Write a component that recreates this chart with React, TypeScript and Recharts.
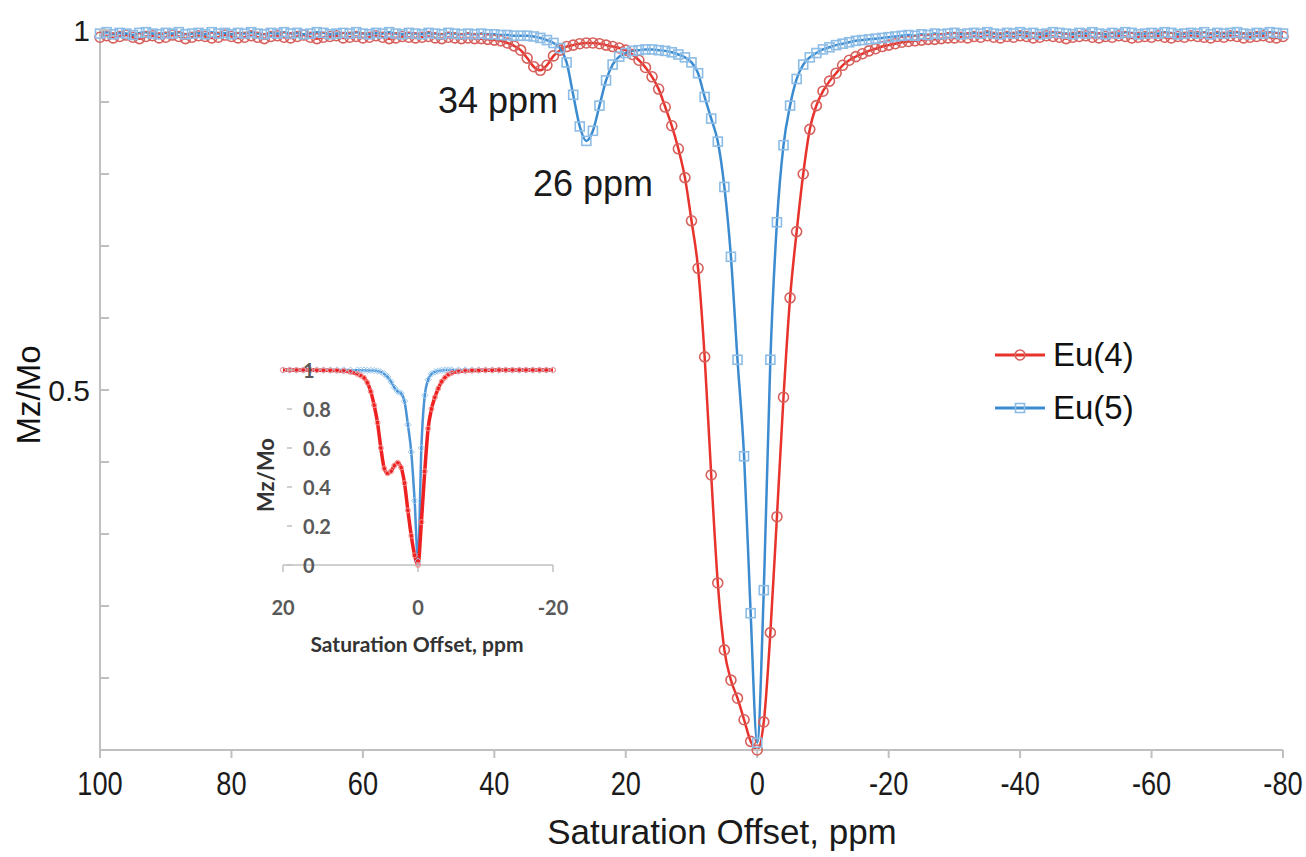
import React from 'react';
import { LineChart, Line, XAxis, YAxis, Legend } from 'recharts';

// ---------- main chart data (saturation offset, ppm) ----------
const offsetsPpm = [
  100, 99, 98, 97, 96, 95, 94, 93, 92, 91,
  90, 89, 88, 87, 86, 85, 84, 83, 82, 81,
  80, 79, 78, 77, 76, 75, 74, 73, 72, 71,
  70, 69, 68, 67, 66, 65, 64, 63, 62, 61,
  60, 59, 58, 57, 56, 55, 54, 53, 52, 51,
  50, 49, 48, 47, 46, 45, 44, 43, 42, 41,
  40, 39, 38, 37, 36, 35, 34, 33, 32, 31,
  30, 29, 28, 27, 26, 25, 24, 23, 22, 21,
  20, 19, 18, 17, 16, 15, 14, 13, 12, 11,
  10, 9, 8, 7, 6, 5, 4, 3, 2, 1,
  0,
  -1, -2, -3, -4, -5, -6, -7, -8, -9, -10,
  -11, -12, -13, -14, -15, -16, -17, -18, -19, -20,
  -21, -22, -23, -24, -25, -26, -27, -28, -29, -30,
  -31, -32, -33, -34, -35, -36, -37, -38, -39, -40,
  -41, -42, -43, -44, -45, -46, -47, -48, -49, -50,
  -51, -52, -53, -54, -55, -56, -57, -58, -59, -60,
  -61, -62, -63, -64, -65, -66, -67, -68, -69, -70,
  -71, -72, -73, -74, -75, -76, -77, -78, -79, -80,
];

const eu4Values = [
  0.990, 0.992, 0.989, 0.991, 0.993, 0.990, 0.988, 0.991, 0.992, 0.989,
  0.990, 0.993, 0.991, 0.988, 0.990, 0.992, 0.991, 0.989, 0.990, 0.993,
  0.991, 0.989, 0.990, 0.992, 0.990, 0.988, 0.991, 0.992, 0.990, 0.989,
  0.991, 0.993, 0.990, 0.988, 0.990, 0.991, 0.992, 0.989, 0.990, 0.991,
  0.989, 0.990, 0.992, 0.990, 0.988, 0.989, 0.991, 0.990, 0.989, 0.990,
  0.991, 0.989, 0.988, 0.990, 0.989, 0.988, 0.989, 0.988, 0.988, 0.987,
  0.986, 0.985, 0.982, 0.978, 0.972, 0.961, 0.949, 0.944, 0.951, 0.964,
  0.972, 0.977, 0.979, 0.981, 0.982, 0.982, 0.981, 0.979, 0.977, 0.975,
  0.972, 0.966, 0.958, 0.948, 0.935, 0.918, 0.893, 0.867, 0.835, 0.795,
  0.735, 0.669, 0.546, 0.382, 0.232, 0.139, 0.097, 0.072, 0.042, 0.012,
  0.0,
  0.039, 0.163, 0.324, 0.490, 0.628, 0.720, 0.800, 0.862, 0.895, 0.915,
  0.929, 0.940, 0.951, 0.958, 0.963, 0.967, 0.971, 0.974, 0.977, 0.979,
  0.981, 0.983, 0.984, 0.985, 0.986, 0.987, 0.987, 0.988, 0.989, 0.989,
  0.990, 0.989, 0.991, 0.990, 0.992, 0.990, 0.989, 0.991, 0.990, 0.992,
  0.991, 0.989, 0.990, 0.992, 0.991, 0.990, 0.988, 0.990, 0.991, 0.992,
  0.990, 0.989, 0.991, 0.990, 0.992, 0.991, 0.989, 0.990, 0.991, 0.990,
  0.992, 0.990, 0.989, 0.991, 0.990, 0.992, 0.991, 0.990, 0.989, 0.991,
  0.990, 0.992, 0.991, 0.989, 0.990, 0.991, 0.992, 0.990, 0.989, 0.991,
];

const eu5Values = [
  0.995, 0.997, 0.994, 0.996, 0.995, 0.993, 0.996, 0.997, 0.995, 0.994,
  0.996, 0.995, 0.997, 0.994, 0.995, 0.996, 0.994, 0.997, 0.995, 0.996,
  0.994, 0.996, 0.995, 0.997, 0.995, 0.994, 0.996, 0.995, 0.997, 0.995,
  0.996, 0.994, 0.995, 0.997, 0.996, 0.994, 0.995, 0.996, 0.995, 0.997,
  0.995, 0.994, 0.996, 0.995, 0.997, 0.995, 0.994, 0.996, 0.995, 0.994,
  0.996, 0.995, 0.994, 0.996, 0.995, 0.994, 0.995, 0.994, 0.995, 0.994,
  0.994, 0.993, 0.993, 0.992, 0.992, 0.992, 0.991, 0.989, 0.986, 0.982,
  0.975, 0.955, 0.910, 0.866, 0.846, 0.860, 0.895, 0.930, 0.952, 0.963,
  0.968, 0.971, 0.972, 0.973, 0.973, 0.972, 0.971, 0.969, 0.966, 0.962,
  0.955, 0.940, 0.907, 0.877, 0.845, 0.782, 0.685, 0.542, 0.408, 0.190,
  0.010,
  0.222, 0.542, 0.733, 0.840, 0.895, 0.932, 0.952, 0.962, 0.968, 0.973,
  0.976, 0.979, 0.981, 0.983, 0.985, 0.986, 0.987, 0.988, 0.989, 0.990,
  0.991, 0.992, 0.993, 0.992, 0.994, 0.993, 0.995, 0.994, 0.995, 0.996,
  0.994, 0.995, 0.996, 0.995, 0.997, 0.995, 0.994, 0.996, 0.995, 0.997,
  0.995, 0.996, 0.994, 0.995, 0.997, 0.996, 0.995, 0.994, 0.996, 0.995,
  0.997, 0.995, 0.994, 0.996, 0.995, 0.997, 0.996, 0.994, 0.995, 0.996,
  0.995, 0.997, 0.996, 0.994, 0.995, 0.996, 0.995, 0.997, 0.994, 0.996,
  0.995, 0.996, 0.997, 0.995, 0.994, 0.996, 0.995, 0.997, 0.996, 0.995,
];

const xTicks = [100, 80, 60, 40, 20, 0, -20, -40, -60, -80];
const yTicks = [0, 0.1, 0.2, 0.3, 0.4, 0.5, 0.6, 0.7, 0.8, 0.9, 1];
const yLabelledTicks = [1, 0.5];
const yLabelTexts = ['1', '0.5'];

// ---------- inset data ----------
const insetOffsets = [
  20, 19, 18, 17, 16, 15, 14, 13, 12, 11, 10, 9,
  8.5, 8, 7.5, 7, 6.5, 6, 5.5, 5, 4.5, 4, 3.5, 3, 2.5, 2, 1.5, 1, 0.5, 0,
  -0.5, -1, -1.5, -2, -2.5, -3, -3.5, -4, -4.5, -5,
  -6, -7, -8, -9, -10, -11, -12, -13, -14, -15, -16, -17, -18, -19, -20,
];
const insetEu4 = [
  1.0, 1.0, 1.0, 1.0, 1.0, 0.999, 0.999, 0.998, 0.997, 0.995, 0.99, 0.98,
  0.972, 0.96, 0.935, 0.89, 0.82, 0.73, 0.6, 0.495, 0.47, 0.48, 0.51, 0.525, 0.5, 0.42, 0.28, 0.15, 0.05, 0.0,
  0.22, 0.48, 0.7, 0.8, 0.86, 0.905, 0.94, 0.962, 0.977, 0.985,
  0.992, 0.995, 0.997, 0.998, 0.999, 0.999, 1.0, 1.0, 1.0, 1.0, 1.0, 1.0, 1.0, 1.0, 1.0,
];
const insetEu5 = [
  1.0, 1.0, 1.0, 1.0, 1.0, 1.0, 1.0, 1.0, 1.0, 1.0, 0.999, 0.999,
  0.999, 0.999, 0.998, 0.998, 0.997, 0.995, 0.99, 0.98, 0.965, 0.94, 0.91, 0.89, 0.88, 0.84, 0.72, 0.58, 0.33, 0.02,
  0.6, 0.87, 0.95, 0.98, 0.99, 0.995, 0.998, 1.0, 1.0, 1.0,
  1.0, 1.0, 1.0, 1.0, 1.0, 1.0, 1.0, 1.0, 1.0, 1.0, 1.0, 1.0, 1.0, 1.0, 1.0,
];
const insetXTicks = [20, 0, -20];
const insetYTicks = [0, 0.2, 0.4, 0.6, 0.8, 1];
const insetYLabels = ['0', '0.2', '0.4', '0.6', '0.8', '1'];

const seriesNames = ['Eu(4)', 'Eu(5)'];

const mainData = offsetsPpm.map((x, i) => ({ x, eu4: eu4Values[i], eu5: eu5Values[i] }));
const insetData = insetOffsets.map((x, i) => ({ x, eu4: insetEu4[i], eu5: insetEu5[i] }));

// ---------- styles ----------
const RED = '#e8322c';
const RED_MARK = '#d6605c';
const BLUE = '#3b8bd0';
const BLUE_MARK = '#8dbde6';
const AXIS = '#c0c0c0';
const FONT = '"Liberation Sans", Arial, sans-serif';
const INSET_FONT = 'Lato, "Open Sans", sans-serif';

const SquareDot = (props: any) => {
  const { cx, cy, index } = props;
  if (cx == null || cy == null) return <g key={`sq-${index}`} />;
  return (
    <rect key={`sq-${index}`} x={cx - 4.5} y={cy - 4.5} width={9} height={9}
      fill="none" stroke={BLUE_MARK} strokeWidth={1.6} />
  );
};

const DiamondDot = (props: any) => {
  const { cx, cy, index } = props;
  if (cx == null || cy == null) return <g key={`dm-${index}`} />;
  const s = 3.2;
  return (
    <path key={`dm-${index}`} d={`M${cx},${cy - s}L${cx + s},${cy}L${cx},${cy + s}L${cx - s},${cy}Z`}
      fill="none" stroke="#9ccaf0" strokeWidth={1} />
  );
};

const MainXTick = (props: any) => {
  const { x, y, payload } = props;
  return (
    <g transform={`translate(${x},${y + 25}) scale(0.8,1)`}>
      <text x={0} y={0} textAnchor="middle" dominantBaseline="central"
        fontFamily={FONT} fontSize={34} fill="#1a1a1a">{payload.value}</text>
    </g>
  );
};

const MainYTick = (props: any) => {
  const { x, y, payload } = props;
  const idx = yLabelledTicks.indexOf(payload.value);
  return (
    <g>
      <line x1={x} x2={x + 9} y1={y} y2={y} stroke={AXIS} strokeWidth={2} />
      {idx >= 0 && (
        <text x={x - 10} y={y} textAnchor="end" dominantBaseline="central"
          fontFamily={FONT} fontSize={30} fill="#1a1a1a">{yLabelTexts[idx]}</text>
      )}
    </g>
  );
};

const InsetXTick = (props: any) => {
  const { x, y, payload } = props;
  return (
    <text x={x} y={y + 35} textAnchor="middle" dominantBaseline="central"
      fontFamily={INSET_FONT} fontWeight={700} fontSize={20} fill="#595959">{payload.value}</text>
  );
};

const InsetYTick = (props: any) => {
  const { x, y, payload } = props;
  const idx = insetYTicks.indexOf(payload.value);
  return (
    <g>
      <line x1={x + 4} x2={x + 9} y1={y} y2={y} stroke={AXIS} strokeWidth={1.5} />
      <text x={x + 20} y={y} textAnchor="start" dominantBaseline="central"
        fontFamily={INSET_FONT} fontWeight={700} fontSize={20} fill="#595959">{insetYLabels[idx]}</text>
    </g>
  );
};

const LegendContent = (props: any) => {
  const payload = props.payload || [];
  return (
    <div>
      {payload.map((item: any) => (
        <div key={item.value} style={{ display: 'flex', alignItems: 'center', height: 53 }}>
          <svg width={54} height={20}>
            <line x1={2} x2={52} y1={10} y2={10} stroke={item.color} strokeWidth={3} />
            {item.dataKey === 'eu4' ? (
              <circle cx={27} cy={10} r={5} fill="none" stroke={RED_MARK} strokeWidth={1.6} />
            ) : (
              <rect x={22.5} y={5.5} width={9} height={9} fill="none" stroke={BLUE_MARK} strokeWidth={1.6} />
            )}
          </svg>
          <span style={{ fontFamily: FONT, fontSize: 33, color: '#111', marginLeft: 6, lineHeight: 1 }}>
            {item.value}
          </span>
        </div>
      ))}
    </div>
  );
};

export default function App() {
  return (
    <div style={{ position: 'absolute', left: 0, top: 0, width: 1306, height: 857, background: '#fff' }}>
      <LineChart width={1306} height={857} data={mainData}
        margin={{ top: 30, right: 23, bottom: 0, left: 0 }}>
        <XAxis dataKey="x" type="number" domain={[-80, 100]} reversed ticks={xTicks} interval={0}
          height={107} axisLine={{ stroke: AXIS, strokeWidth: 2 }}
          tickLine={{ stroke: AXIS, strokeWidth: 2 }} tickSize={8} tickMargin={0}
          tick={<MainXTick />} />
        <YAxis type="number" domain={[0, 1]} ticks={yTicks} interval={0} width={100}
          axisLine={{ stroke: AXIS, strokeWidth: 2 }} tickLine={false} tickSize={0} tickMargin={0}
          tick={<MainYTick />} />
        <Legend layout="vertical" verticalAlign="middle" align="center" content={<LegendContent />}
          wrapperStyle={{ position: 'absolute', left: 993, top: 328, width: 'auto' }} />
        <Line dataKey="eu4" name={seriesNames[0]} type="monotone" stroke={RED} strokeWidth={2.5}
          dot={{ r: 5, stroke: RED_MARK, strokeWidth: 1.6, fill: 'none' }} activeDot={false}
          isAnimationActive={false} />
        <Line dataKey="eu5" name={seriesNames[1]} type="monotone" stroke={BLUE} strokeWidth={2.5}
          dot={<SquareDot />} activeDot={false} isAnimationActive={false} />
      </LineChart>

      <div style={{ position: 'absolute', left: 200, top: 340, width: 380, height: 330 }}>
        <LineChart width={380} height={330} data={insetData}
          margin={{ top: 30, right: 27, bottom: 0, left: 0 }}>
          <XAxis dataKey="x" type="number" domain={[-20, 20]} reversed ticks={insetXTicks} interval={0}
            height={105} axisLine={{ stroke: AXIS, strokeWidth: 1.5 }}
            tickLine={{ stroke: AXIS, strokeWidth: 1.5 }} tickSize={7} tickMargin={0}
            tick={<InsetXTick />} />
          <YAxis type="number" domain={[0, 1]} ticks={insetYTicks} interval={0} width={83}
            axisLine={false} tickLine={false} tickSize={0} tickMargin={0} tick={<InsetYTick />} />
          <Line dataKey="eu5" name={seriesNames[1]} type="monotone" stroke="#4a93d6" strokeWidth={2.5}
            dot={<DiamondDot />} activeDot={false} isAnimationActive={false} />
          <Line dataKey="eu4" name={seriesNames[0]} type="monotone" stroke="#ee2020" strokeWidth={3.5}
            dot={{ r: 2.5, stroke: '#f29090', strokeWidth: 1, fill: 'none' }} activeDot={false}
            isAnimationActive={false} />
        </LineChart>
      </div>

      <svg width={1306} height={857} style={{ position: 'absolute', left: 0, top: 0, pointerEvents: 'none' }}>
        <text x={722} y={831} textAnchor="middle" dominantBaseline="central"
          fontFamily={FONT} fontSize={35} fill="#1a1a1a">Saturation Offset, ppm</text>
        <text transform="translate(28,395) rotate(-90)" textAnchor="middle" dominantBaseline="central"
          fontFamily={FONT} fontSize={33} fill="#111">Mz/Mo</text>
        <text x={438} y={100} textAnchor="start" dominantBaseline="central"
          fontFamily={FONT} fontSize={36} fill="#1a1a1a">34 ppm</text>
        <text x={533} y={183} textAnchor="start" dominantBaseline="central"
          fontFamily={FONT} fontSize={36} fill="#1a1a1a">26 ppm</text>
        <text transform="translate(265,475) rotate(-90)" textAnchor="middle" dominantBaseline="central"
          fontFamily={INSET_FONT} fontWeight={700} fontSize={22} fill="#333">Mz/Mo</text>
        <text x={417} y={643} textAnchor="middle" dominantBaseline="central"
          fontFamily={INSET_FONT} fontWeight={700} fontSize={21} fill="#333">Saturation Offset, ppm</text>
      </svg>
    </div>
  );
}
